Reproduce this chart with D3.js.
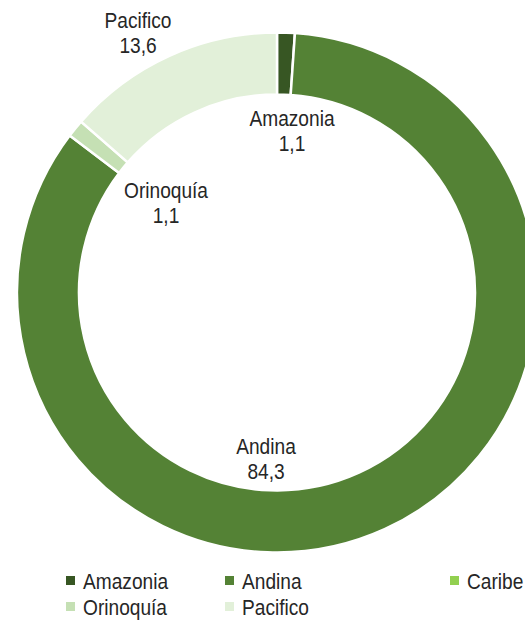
<!DOCTYPE html>
<html>
<head>
<meta charset="utf-8">
<script src="https://cdn.jsdelivr.net/npm/d3@7"></script>
<style>
	body { margin: 0; background: #fff; }
	text { font-family: "Liberation Sans Narrow", "Arial Narrow", "Liberation Sans", Arial, sans-serif; fill: #262626; }
</style>
</head>
<body>
<svg width="525" height="620"></svg>
<script>
// regiones y participacion (%)
var regions = ["Amazonia", "Andina", "Caribe", "Orinoquía", "Pacifico"];
var shares = [1.1, 84.3, 0, 1.1, 13.6];
var labels = ["1,1", "84,3", "0,0", "1,1", "13,6"];
var colors = ["#375623", "#548235", "#92d050", "#c5e0b4", "#e2f0d9"];

var width = 525, height = 620;
var cx = 277, cy = 292.5, outerR = 260, innerR = 198;
var squeeze = 0.87; // no narrow font here, so squash the regular one

// where each data label sits, relative to the centre
var labelPos = {
	"Amazonia": [15, -167],
	"Andina": [-11, 161],
	"Orinoquía": [-111, -95],
	"Pacifico": [-139, -265]
};

var svg = d3.select("svg");
var rows = regions.map(function(r, i) { return {name: r, value: shares[i], label: labels[i], color: colors[i]}; });

var pie = d3.pie().sort(null).value(function(d) { return d.value; });
var arc = d3.arc().innerRadius(innerR).outerRadius(outerR);

var g = svg.append("g").attr("transform", "translate(" + cx + "," + cy + ")");
g.selectAll("path.slice")
	.data(pie(rows).filter(function(d) { return d.data.value > 0; }))
	.enter().append("path").attr("class", "slice")
		.attr("d", arc)
		.attr("fill", function(d) { return d.data.color; })
		.attr("stroke", "#fff").attr("stroke-width", 2.5);

var lab = g.selectAll("text.lab")
	.data(rows.filter(function(d) { return labelPos[d.name]; }))
	.enter().append("text").attr("class", "lab")
		.attr("text-anchor", "middle").style("font-size", "22px")
		.attr("transform", function(d) { var p = labelPos[d.name]; return "translate(" + p[0] + "," + p[1] + ") scale(" + squeeze + ",1)"; });
lab.append("tspan").attr("x", 0).attr("y", 0).text(function(d) { return d.name; });
lab.append("tspan").attr("x", 0).attr("y", 26).text(function(d) { return d.label; });

// legend
var legX = [66, 225, 450], legY = [581, 607];
var leg = svg.selectAll("g.leg").data(rows).enter().append("g").attr("class", "leg")
	.attr("transform", function(d, i) { return "translate(" + legX[i % 3] + "," + legY[Math.floor(i / 3)] + ")"; });
leg.append("rect").attr("x", 0).attr("y", -5).attr("width", 9).attr("height", 9)
	.attr("fill", function(d) { return d.color; });
leg.append("text").attr("transform", "translate(17,8) scale(" + squeeze + ",1)").style("font-size", "22px")
	.text(function(d) { return d.name; });
</script>
</body>
</html>
